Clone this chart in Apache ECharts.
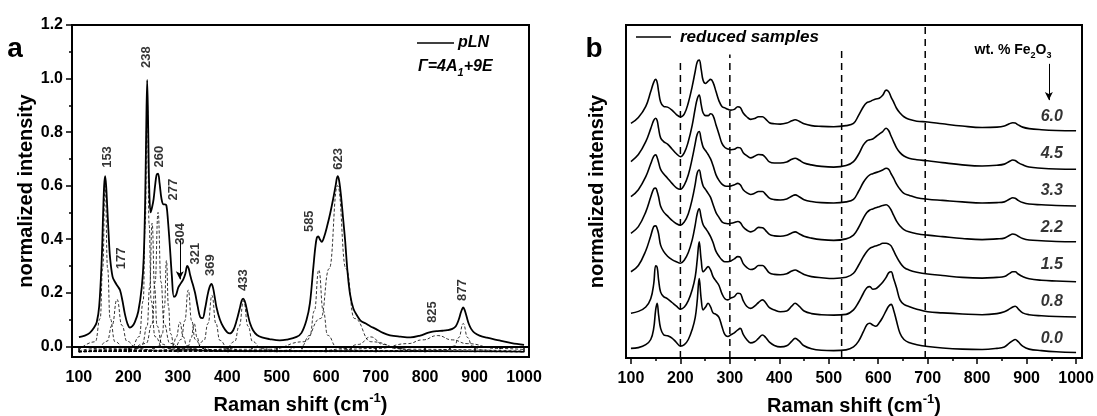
<!DOCTYPE html>
<html><head><meta charset="utf-8">
<script src="https://cdn.jsdelivr.net/npm/echarts@6/dist/echarts.min.js"></script>
<style>html,body{margin:0;padding:0;background:#fff}#c{width:1097px;height:416px}</style>
</head><body><div id="c"></div>
<script>
// ================= DATA =================
// Panel a: measured pLN spectrum (solid)
const pLN_x = [
 100,112,122,130,136,141,146,149,151,153,
 155,157,160,163,168,173,178,183,188,193,
 198,203,208,213,220,227,231,234,236,238,
 240,242,245,248,251,254,257,260,263,267,
 271,274,277,280,284,288,292,296,301,306,
 311,315,319,322,325,328,332,335,340,345,
 350,355,360,364,368,371,374,378,385,392,
 400,405,412,419,425,429,432,435,438,442,
 446,452,460,470,485,506,520,540,550,560,
 567,574,578,581,584,587,591,596,602,608,
 614,619,623,626,630,634,638,643,648,655,
 662,670,680,689,700,715,729,750,770,790,
 805,815,825,835,845,855,862,868,872,875,
 877,880,884,888,893,900,910,925,950,975,
 1000];
const pLN_y = [
 0.034,0.04,0.05,0.068,0.09,0.15,0.32,0.5,0.6,0.635,
 0.6,0.53,0.42,0.33,0.26,0.24,0.225,0.21,0.17,0.12,
 0.085,0.07,0.075,0.09,0.13,0.22,0.33,0.55,0.8,0.995,
 0.82,0.6,0.5,0.52,0.55,0.6,0.64,0.645,0.61,0.55,
 0.53,0.53,0.525,0.47,0.37,0.26,0.185,0.19,0.22,0.235,
 0.25,0.27,0.3,0.29,0.265,0.245,0.22,0.198,0.15,0.11,
 0.105,0.14,0.19,0.22,0.233,0.22,0.19,0.147,0.1,0.072,
 0.052,0.048,0.06,0.097,0.14,0.17,0.178,0.17,0.15,0.115,
 0.086,0.06,0.042,0.033,0.027,0.022,0.025,0.035,0.05,0.097,
 0.16,0.296,0.37,0.405,0.41,0.4,0.39,0.41,0.45,0.496,
 0.55,0.6,0.635,0.62,0.56,0.48,0.4,0.28,0.197,0.14,
 0.116,0.095,0.085,0.075,0.065,0.05,0.041,0.036,0.033,0.04,
 0.05,0.055,0.057,0.058,0.06,0.065,0.075,0.1,0.125,0.14,
 0.145,0.135,0.11,0.085,0.065,0.05,0.04,0.032,0.022,0.012,
 0.005];

// Panel a: fitted components (dashed), [shift, intensity] pairs
const c153 = [[100,-0.014],[133,0.017],[143,0.104],[148,0.29],[153,0.6],[158,0.29],[163,0.104],[173,0.017],[193,-0.01],[300,-0.018],[1000,-0.02]];
const c177 = [[100,-0.017],[137,-0.008],[157,0.019],[167,0.078],[177,0.175],[187,0.078],[197,0.019],[217,-0.008],[260,-0.017],[1000,-0.02]];
const c238 = [[100,-0.019],[206,-0.006],[222,0.036],[230,0.17],[234,0.455],[238,0.93],[242,0.455],[246,0.17],[254,0.036],[270,-0.006],[400,-0.019],[1000,-0.02]];
const c248 = [[100,-0.02],[208,-0.012],[228,0.008],[238,0.076],[243,0.22],[248,0.46],[253,0.22],[258,0.076],[268,0.008],[288,-0.012],[400,-0.019],[1000,-0.02]];
const c260 = [[100,-0.02],[212,-0.011],[236,0.011],[248,0.084],[254,0.24],[260,0.5],[266,0.24],[272,0.084],[284,0.011],[308,-0.011],[450,-0.019],[1000,-0.02]];
const c277 = [[100,-0.02],[245,-0.015],[261,0.0],[269,0.048],[273,0.15],[277,0.32],[281,0.15],[285,0.048],[293,0.0],[309,-0.015],[450,-0.02],[1000,-0.02]];
const c304 = [[100,-0.02],[248,-0.018],[276,-0.0135],[290,0.002],[297,0.035],[304,0.09],[311,0.035],[318,0.002],[332,-0.0135],[360,-0.018],[1000,-0.02]];
const c321 = [[100,-0.02],[265,-0.0165],[293,-0.0065],[307,0.026],[314,0.095],[321,0.21],[328,0.095],[335,0.026],[349,-0.0065],[377,-0.0165],[1000,-0.02]];
const c333 = [[100,-0.02],[285,-0.018],[309,-0.014],[321,0.001],[327,0.0325],[333,0.085],[339,0.0325],[345,0.001],[357,-0.014],[381,-0.018],[1000,-0.02]];
const c369 = [[100,-0.02],[305,-0.017],[337,-0.0075],[353,0.022],[361,0.085],[369,0.19],[377,0.085],[385,0.022],[401,-0.0075],[433,-0.017],[1000,-0.02]];
const c433 = [[100,-0.02],[361,-0.017],[397,-0.009],[415,0.018],[424,0.075],[433,0.17],[442,0.075],[451,0.018],[469,-0.009],[505,-0.017],[1000,-0.02]];
const c585 = [[100,-0.02],[513,-0.0155],[549,-0.002],[567,0.041],[576,0.1325],[585,0.285],[594,0.1325],[603,0.041],[621,-0.002],[657,-0.0155],[1000,-0.02]];
const c623 = [[100,-0.02],[487,-0.011],[555,0.017],[589,0.104],[606,0.29],[623,0.6],[640,0.29],[657,0.104],[691,0.017],[759,-0.011],[1000,-0.018]];
const c690 = [[100,-0.02],[590,-0.017],[640,-0.008],[665,0.007],[690,0.035],[715,0.007],[740,-0.008],[790,-0.017],[1000,-0.02]];
const c825 = [[100,-0.019],[585,-0.016],[705,-0.008],[765,0.01],[795,0.024],[825,0.04],[855,0.024],[885,0.01],[945,-0.008],[1000,-0.012]];
const c877 = [[100,-0.02],[805,-0.018],[841,-0.014],[859,0.001],[868,0.0325],[877,0.085],[886,0.0325],[895,0.001],[913,-0.014],[949,-0.018],[1000,-0.019]];

// Panel a: peak labels [shift, height, text]
const peakLabelsA = [[157,0.707,'153'],[186,0.328,'177'],[237,1.08,'238'],[262,0.708,'260'],[291,0.585,'277'],
  [306,0.42,'304'],[336,0.346,'321'],[366,0.303,'369'],[432,0.247,'433'],[567,0.467,'585'],[624,0.70,'623'],[815,0.128,'825'],[875,0.21,'877']];
const arrow304 = [[304,0.395],[304,0.25]];

// Panel b: reduced samples, shared shift grid
const xB = [
 100,115,130,140,146,150,153,156,160,166,
 174,183,192,200,208,216,224,230,234,238,
 242,246,251,256,261,266,272,278,284,290,
 296,302,309,316,321,327,334,342,350,358,
 366,372,380,390,402,415,425,432,440,450,
 465,485,510,535,550,560,570,577,583,589,
 595,602,609,616,621,626,631,637,644,652,
 662,678,700,730,770,810,840,855,865,872,
 877,883,892,905,930,960,1000];
const b00 = [
 0.26,0.28,0.36,0.5,0.8,1.3,1.48,1.15,0.8,0.63,
 0.6,0.54,0.42,0.32,0.36,0.5,0.78,1.1,1.55,2.15,
 1.6,1.3,1.38,1.48,1.38,1.22,1.18,1.1,0.85,0.63,
 0.58,0.63,0.68,0.76,0.8,0.64,0.5,0.41,0.44,0.53,
 0.62,0.56,0.43,0.34,0.3,0.33,0.45,0.53,0.46,0.33,
 0.25,0.21,0.2,0.22,0.3,0.45,0.71,0.9,0.94,0.89,
 0.86,0.95,1.1,1.28,1.4,1.45,1.3,1.0,0.67,0.5,
 0.42,0.36,0.31,0.27,0.24,0.23,0.26,0.3,0.4,0.47,
 0.5,0.44,0.32,0.24,0.2,0.17,0.15];
const b08 = [
 0.21,0.26,0.38,0.6,1.0,1.49,1.45,1.1,0.78,0.66,
 0.6,0.5,0.4,0.32,0.38,0.55,0.85,1.2,1.65,2.14,
 1.65,1.33,1.4,1.47,1.38,1.2,1.08,0.96,0.74,0.6,
 0.57,0.62,0.66,0.75,0.74,0.55,0.4,0.34,0.4,0.5,
 0.57,0.5,0.36,0.3,0.25,0.27,0.4,0.48,0.4,0.27,
 0.2,0.17,0.16,0.18,0.3,0.5,0.75,0.9,0.93,0.86,
 0.87,0.95,1.05,1.18,1.3,1.33,1.15,0.9,0.57,0.45,
 0.39,0.32,0.25,0.22,0.19,0.17,0.2,0.25,0.32,0.38,
 0.4,0.33,0.22,0.17,0.14,0.12,0.11];
const b15 = [
 0.33,0.5,0.9,1.3,1.55,1.57,1.5,1.35,1.05,0.88,
 0.75,0.66,0.6,0.56,0.65,0.85,1.2,1.6,1.9,2.03,
 1.8,1.6,1.5,1.4,1.28,1.12,0.88,0.75,0.65,0.6,
 0.6,0.62,0.68,0.74,0.72,0.55,0.45,0.39,0.42,0.5,
 0.5,0.43,0.3,0.26,0.25,0.28,0.35,0.38,0.33,0.26,
 0.2,0.17,0.15,0.18,0.29,0.5,0.74,0.88,0.96,1.0,
 1.03,1.06,1.1,1.1,1.08,1.03,0.9,0.74,0.58,0.45,
 0.38,0.32,0.27,0.23,0.18,0.16,0.18,0.2,0.28,0.33,
 0.33,0.27,0.2,0.14,0.1,0.08,0.06];
const b22 = [
 0.37,0.55,0.95,1.35,1.57,1.59,1.5,1.35,1.1,0.95,
 0.84,0.72,0.63,0.59,0.68,0.9,1.3,1.7,2.0,2.08,
 1.85,1.65,1.55,1.45,1.34,1.15,0.93,0.8,0.68,0.64,
 0.63,0.64,0.66,0.69,0.66,0.54,0.46,0.41,0.45,0.53,
 0.52,0.45,0.34,0.3,0.29,0.32,0.38,0.41,0.36,0.29,
 0.24,0.2,0.18,0.22,0.32,0.52,0.78,0.93,1.0,1.03,
 1.06,1.09,1.12,1.14,1.1,1.0,0.86,0.7,0.57,0.47,
 0.41,0.36,0.32,0.28,0.23,0.2,0.22,0.24,0.31,0.35,
 0.34,0.29,0.23,0.19,0.17,0.15,0.14];
const b33 = [
 0.36,0.55,0.9,1.25,1.45,1.49,1.42,1.28,1.1,0.98,
 0.86,0.72,0.6,0.56,0.68,0.95,1.4,1.8,2.05,2.12,
 1.9,1.7,1.6,1.5,1.38,1.2,0.95,0.8,0.7,0.65,
 0.64,0.65,0.68,0.72,0.68,0.55,0.47,0.42,0.45,0.5,
 0.5,0.43,0.32,0.28,0.27,0.3,0.37,0.41,0.36,0.28,
 0.23,0.2,0.19,0.22,0.29,0.5,0.75,0.88,0.95,0.98,
 1.01,1.04,1.08,1.13,1.1,0.98,0.86,0.7,0.56,0.45,
 0.4,0.33,0.29,0.26,0.22,0.19,0.2,0.22,0.29,0.33,
 0.32,0.26,0.2,0.16,0.14,0.12,0.11];
const b45 = [
 0.31,0.5,0.85,1.2,1.42,1.48,1.42,1.2,0.95,0.85,
 0.78,0.65,0.52,0.44,0.55,0.85,1.3,1.75,2.0,2.11,
 1.85,1.62,1.55,1.55,1.6,1.55,1.3,1.05,0.8,0.69,
 0.65,0.63,0.64,0.69,0.68,0.55,0.47,0.41,0.45,0.5,
 0.49,0.42,0.3,0.27,0.27,0.3,0.37,0.4,0.35,0.27,
 0.22,0.18,0.16,0.2,0.31,0.5,0.76,0.87,0.9,0.92,
 0.98,1.05,1.12,1.21,1.15,1.0,0.85,0.68,0.55,0.46,
 0.4,0.36,0.33,0.28,0.22,0.19,0.21,0.24,0.31,0.35,
 0.34,0.28,0.22,0.16,0.13,0.11,0.1];
const b60 = [
 0.34,0.5,0.8,1.2,1.45,1.53,1.45,1.2,0.92,0.8,
 0.78,0.7,0.58,0.52,0.6,0.9,1.35,1.75,2.0,2.05,
 1.8,1.5,1.42,1.48,1.53,1.45,1.2,0.95,0.8,0.76,
 0.72,0.7,0.72,0.79,0.77,0.62,0.52,0.45,0.47,0.52,
 0.52,0.46,0.36,0.33,0.32,0.35,0.41,0.44,0.4,0.33,
 0.28,0.26,0.25,0.28,0.34,0.55,0.79,0.9,0.93,0.97,
 1.0,1.02,1.1,1.24,1.2,1.05,0.92,0.75,0.62,0.52,
 0.45,0.4,0.38,0.33,0.27,0.23,0.24,0.27,0.33,0.36,
 0.35,0.3,0.24,0.2,0.17,0.15,0.14];
const sampleNames = ['0.0','0.8','1.5','2.2','3.3','4.5','6.0'];
const sampleCurves = [b00,b08,b15,b22,b33,b45,b60];
const sampleOffsets = [0,1,2,3,4,5,6];
const guideShifts = [200,300,526,695];
const guideTops = [8.0,8.2,8.3,9];

// Tick values
const xTickVals = [100,200,300,400,500,600,700,800,900,1000];
const xMinorVals = [150,250,350,450,550,650,750,850,950];
const yTickValsA = [0,0.2,0.4,0.6,0.8,1.0,1.2];
const yMinorValsA = [0.1,0.3,0.5,0.7,0.9,1.1];

// ================= CHART =================
const FONT = '"Liberation Sans", Arial, Helvetica, sans-serif';
const chart = echarts.init(document.getElementById('c'));
const zip = (xs, ys, off) => xs.map((x, i) => [x, ys[i] + (off || 0)]);

const components = [c153,c177,c238,c248,c260,c277,c304,c321,c333,c369,c433,c585,c623,c690,c825,c877];
const series = [];
components.forEach(c => series.push({
  type:'line', xAxisIndex:0, yAxisIndex:0, data:c, showSymbol:false, smooth:0.5, smoothMonotone:'x',
  lineStyle:{color:'#000', width:0.8, type:[3,2]}, silent:true, z:2
}));
series.push({
  type:'line', xAxisIndex:0, yAxisIndex:0, data:zip(pLN_x, pLN_y), showSymbol:false, smooth:0.35,
  lineStyle:{color:'#000', width:1.8}, silent:true, z:3,
  markLine:{silent:true, symbol:['none','arrow'], symbolSize:[6,8], label:{show:false},
    lineStyle:{color:'#000', width:1, type:'solid'},
    data:[[{coord:arrow304[0]},{coord:arrow304[1]}]]}
});
series.push({
  type:'scatter', xAxisIndex:0, yAxisIndex:0, symbolSize:0, silent:true, z:4,
  data:peakLabelsA,
  label:{show:true, position:'inside', rotate:90, formatter:p => p.data[2],
    fontFamily:FONT, fontSize:13, fontWeight:'bold', color:'#000'}
});

// Panel b
sampleCurves.forEach((v, i) => series.push({
  type:'line', xAxisIndex:2, yAxisIndex:2, data:zip(xB, v, sampleOffsets[i]), showSymbol:false,
  smooth:0.4, lineStyle:{color:'#000', width:1.6}, silent:true, z:3
}));
guideShifts.forEach((s, i) => series.push({
  type:'line', xAxisIndex:2, yAxisIndex:2, data:[[s,0],[s,guideTops[i]]], showSymbol:false,
  lineStyle:{color:'#000', width:1.5, type:[7,5]}, silent:true, z:2
}));
series.push({
  type:'scatter', xAxisIndex:2, yAxisIndex:2, symbolSize:0, silent:true, z:4,
  data:sampleNames.map((n, i) => [951, sampleOffsets[i] + 0.52, n]),
  label:{show:true, position:'inside', formatter:p => p.data[2],
    fontFamily:FONT, fontSize:16, fontWeight:'bold', fontStyle:'italic', color:'#000'},
  markLine:{silent:true, symbol:['none','arrow'], symbolSize:[6,8], label:{show:false},
    lineStyle:{color:'#000', width:1, type:'solid'},
    data:[[{coord:[945,7.95]},{coord:[945,6.97]}]]}
});

const axisLbl = {fontFamily:FONT, fontSize:16, fontWeight:'bold', color:'#000'};
const nameStyle = {fontFamily:FONT, fontSize:20, fontWeight:'bold', color:'#000'};
const xName = 'Raman shift (cm{sup|-1})';
const xNameStyle = Object.assign({}, nameStyle, {lineHeight:26,
  rich:{sup:{fontFamily:FONT, fontSize:13, fontWeight:'bold', color:'#000', verticalAlign:'top', lineHeight:13}}});

function xMain(grid, min, max){
  return {gridIndex:grid, type:'value', min:min, max:max, position:'bottom',
    name:xName, nameLocation:'middle', nameGap:35, nameTextStyle:xNameStyle,
    axisLine:{show:true, lineStyle:{color:'#000', width:2}},
    axisTick:{show:true, inside:false, length:6, customValues:xTickVals, lineStyle:{color:'#000', width:1.5}},
    axisLabel:{show:true, customValues:xTickVals, margin:13, formatter:v => String(v), ...axisLbl},
    splitLine:{show:false}};
}
function xMinor(grid, min, max){
  return {gridIndex:grid, type:'value', min:min, max:max, position:'bottom',
    axisLine:{show:false}, axisLabel:{show:false},
    axisTick:{show:true, length:3, customValues:xMinorVals, lineStyle:{color:'#000', width:1.5}},
    splitLine:{show:false}};
}

const option = {
  animation:false,
  backgroundColor:'#fff',
  grid:[
    {left:72, top:25, width:457, height:332, show:true, borderColor:'#000', borderWidth:2, backgroundColor:'transparent', containLabel:false, outerBoundsMode:'none'},
    {left:626, top:25, width:456, height:333, show:true, borderColor:'#000', borderWidth:2, backgroundColor:'transparent', containLabel:false, outerBoundsMode:'none'}
  ],
  xAxis:[ xMain(0,86,1010), xMinor(0,86,1010), xMain(1,90,1012), xMinor(1,90,1012) ],
  yAxis:[
    {gridIndex:0, type:'value', min:-0.04, max:1.2, position:'left',
      name:'normalized intensity', nameLocation:'middle', nameGap:35, nameTextStyle:nameStyle,
      axisLine:{show:true, lineStyle:{color:'#000', width:2}},
      axisTick:{show:true, length:6, customValues:yTickValsA, lineStyle:{color:'#000', width:1.5}},
      axisLabel:{show:true, customValues:yTickValsA, margin:9, formatter:v => v.toFixed(1), ...axisLbl},
      splitLine:{show:false}},
    {gridIndex:0, type:'value', min:-0.04, max:1.2, position:'left',
      axisLine:{show:false}, axisLabel:{show:false},
      axisTick:{show:true, length:3, customValues:yMinorValsA, lineStyle:{color:'#000', width:1.5}},
      splitLine:{show:false}},
    {gridIndex:1, type:'value', min:0, max:9, position:'left',
      name:'normalized intensity', nameLocation:'middle', nameGap:19, nameTextStyle:nameStyle,
      axisLine:{show:true, lineStyle:{color:'#000', width:2}},
      axisTick:{show:false}, axisLabel:{show:false}, splitLine:{show:false}}
  ],
  graphic:[
    {type:'text', x:15, y:49, style:{text:'a', fontFamily:FONT, fontSize:28, fontWeight:'bold', fill:'#000', align:'center', verticalAlign:'middle', textAlign:'center', textVerticalAlign:'middle'}},
    {type:'text', x:594, y:49, style:{text:'b', fontFamily:FONT, fontSize:28, fontWeight:'bold', fill:'#000', align:'center', verticalAlign:'middle', textAlign:'center', textVerticalAlign:'middle'}},
    {type:'line', shape:{x1:417, y1:43, x2:454, y2:43}, style:{stroke:'#000', lineWidth:1.6}},
    {type:'text', x:458, y:43, style:{text:'pLN', fontFamily:FONT, fontSize:16, fontWeight:'bold', fontStyle:'italic', fill:'#000', align:'left', verticalAlign:'middle', textAlign:'left', textVerticalAlign:'middle'}},
    {type:'text', x:418, y:67, style:{text:'Γ=4A{sub|1}+9E', fontFamily:FONT, fontSize:16, fontWeight:'bold', fontStyle:'italic', fill:'#000', align:'left', verticalAlign:'middle', textAlign:'left', textVerticalAlign:'middle', lineHeight:22,
      rich:{sub:{fontFamily:FONT, fontSize:11, fontWeight:'bold', fontStyle:'italic', fill:'#000', verticalAlign:'bottom', lineHeight:11}}}},
    {type:'line', shape:{x1:636, y1:37, x2:671, y2:37}, style:{stroke:'#000', lineWidth:1.6}},
    {type:'text', x:680, y:37, style:{text:'reduced samples', fontFamily:FONT, fontSize:17, fontWeight:'bold', fontStyle:'italic', fill:'#000', align:'left', verticalAlign:'middle', textAlign:'left', textVerticalAlign:'middle'}},
    {type:'text', x:1013, y:50, style:{text:'wt. % Fe{sub|2}O{sub|3}', fontFamily:FONT, fontSize:14, fontWeight:'bold', fill:'#000', align:'center', verticalAlign:'middle', textAlign:'center', textVerticalAlign:'middle', lineHeight:20,
      rich:{sub:{fontFamily:FONT, fontSize:9, fontWeight:'bold', fill:'#000', verticalAlign:'bottom', lineHeight:9}}}}
  ],
  series:series
};
chart.setOption(option);
</script>
</body></html>
